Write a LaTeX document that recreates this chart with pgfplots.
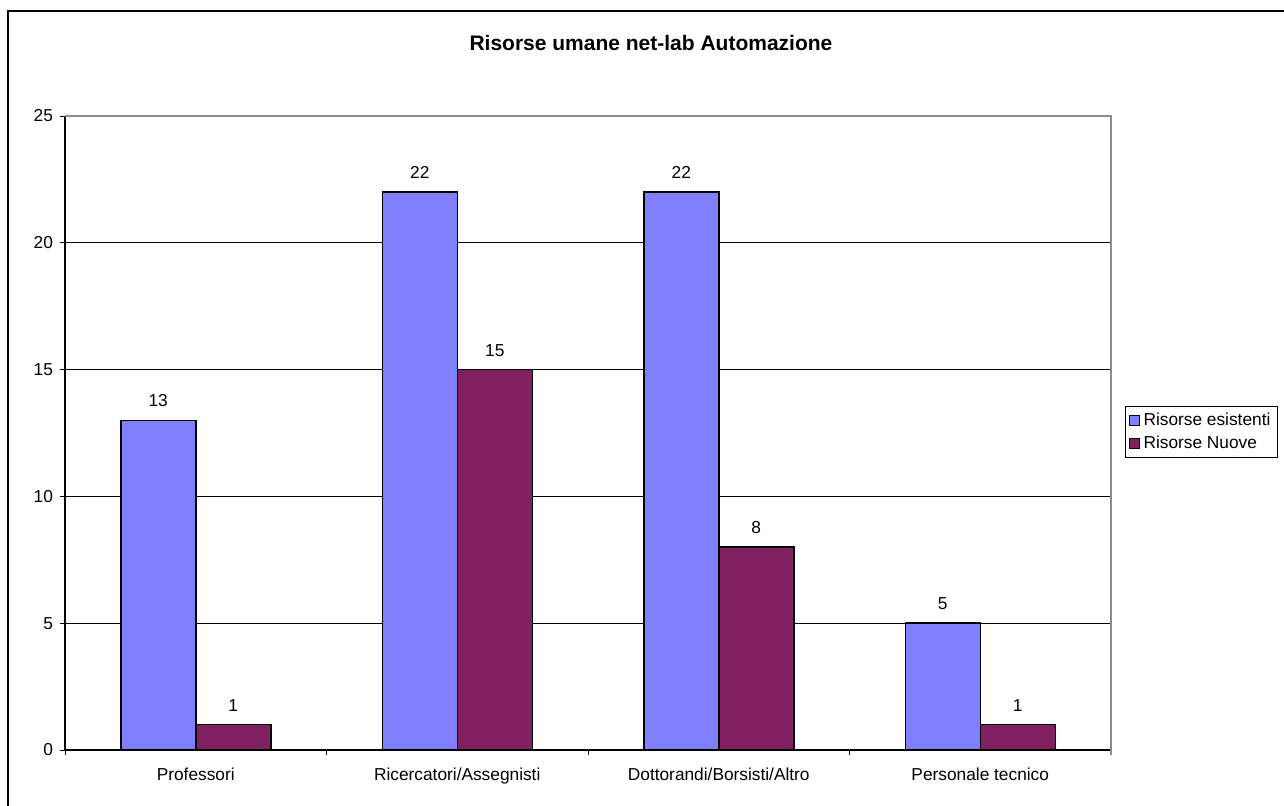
\documentclass[border=0pt]{standalone}
\usepackage{fontspec}
\setmainfont{Liberation Sans}
\usepackage{pgfplots}
\pgfplotsset{compat=1.18}
\definecolor{esistenti}{HTML}{8080FF}
\definecolor{nuove}{HTML}{802060}
\definecolor{bordergray}{HTML}{8C8C8C}

\newcommand{\lblfont}{\fontsize{8.65}{10}\selectfont}

\begin{document}
\begin{tikzpicture}
\useasboundingbox (0,0) rectangle (642pt,-402.5pt);
% chart frame (top and left edges)
\draw[line width=1pt] (4pt,-410pt) -- (4pt,-5.5pt) -- (650pt,-5.5pt);
\begin{axis}[
  at={(32.5pt,-375pt)}, anchor=south west,
  scale only axis, width=523pt, height=317pt,
  ybar=0pt, bar width=37.5pt,
  xmin=-0.5, xmax=3.5, ymin=0, ymax=25,
  xtick={-0.5,0.5,1.5,2.5,3.5},
  xticklabels={Professori,Ricercatori/Assegnisti,Dottorandi/Borsisti/Altro,Personale tecnico},
  x tick label as interval,
  ytick={0,5,...,25},
  tick align=outside, major tick length=2.5pt,
  tick style={black, line width=0.5pt},
  axis lines*=left,
  axis line style={black, line width=0.6pt},
  ymajorgrids, grid style={black, line width=0.5pt},
  /pgf/number format/assume math mode=true,
  tick label style={font=\lblfont},
  xticklabel style={yshift=-3pt},
  nodes near coords,
  every node near coord/.append style={font=\lblfont, yshift=3pt},
  title={Risorse umane net-lab Automazione},
  title style={at={(0.5602,1.0962)}, anchor=center, font=\bfseries\fontsize{10.5}{12}\selectfont},
  legend style={at={(1.0134,0.5426)}, anchor=north west, draw=black, line width=0.5pt,
    font=\lblfont, inner xsep=1.5pt, inner ysep=1pt, row sep=0pt},
  legend cell align=left,
  legend image code/.code={\draw[#1, line width=0.5pt] (0pt,-2.5pt) rectangle (5pt,2.5pt);},
  clip=false,
]
\addplot[draw=black, line width=0.75pt, fill=esistenti] coordinates {(0,13) (1,22) (2,22) (3,5)};
\addlegendentry{Risorse esistenti}
\addplot[draw=black, line width=0.75pt, fill=nuove] coordinates {(0,1) (1,15) (2,8) (3,1)};
\addlegendentry{Risorse Nuove}
\draw[bordergray, line width=1pt] (rel axis cs:0,1) -- (rel axis cs:1,1) -- (rel axis cs:1,0) -- ++(0pt,-2.5pt);
\end{axis}
\end{tikzpicture}
\end{document}
